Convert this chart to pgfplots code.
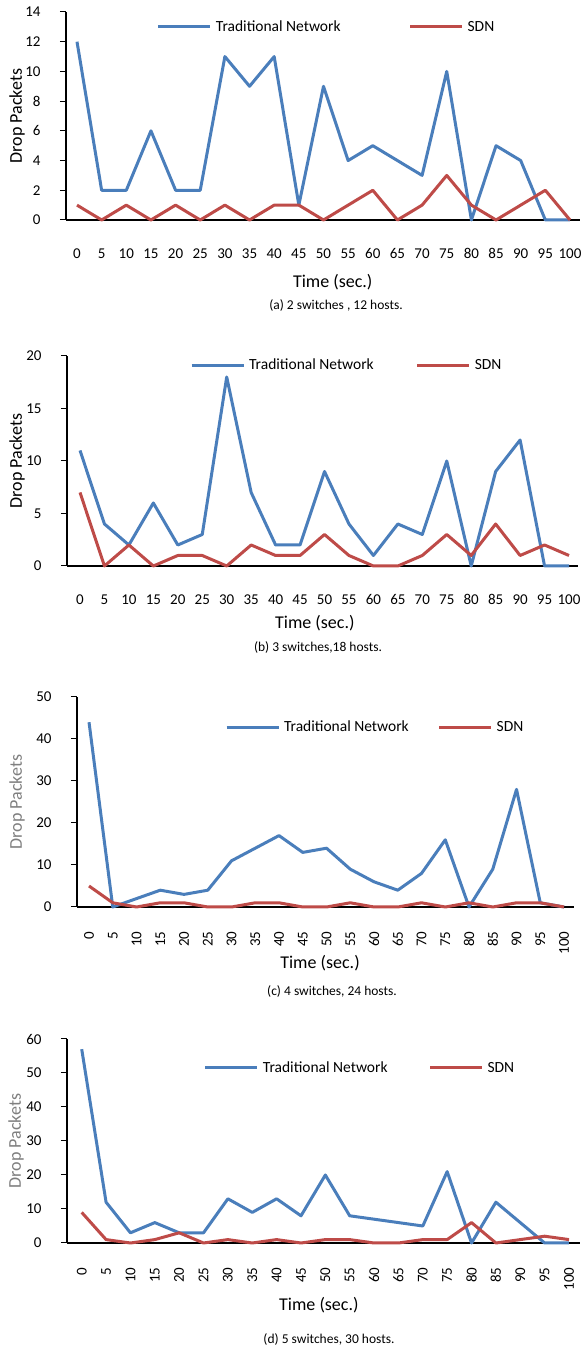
\documentclass[border=0pt]{standalone}
\usepackage{fontspec}
\setmainfont{Carlito}
\usepackage{pgfplots}
\usepackage{pgfplotstable}
\pgfplotsset{compat=1.18}
\definecolor{tnblue}{HTML}{4A7EBB}
\definecolor{sdnred}{HTML}{BE4B48}
\definecolor{lblgray}{HTML}{7F7F7F}

\pgfplotstableread{
t trad sdn
0 12 1
5 2 0
10 2 1
15 6 0
20 2 1
25 2 0
30 11 1
35 9 0
40 11 1
45 1 1
50 9 0
55 4 1
60 5 2
65 4 0
70 3 1
75 10 3
80 0 1
85 5 0
90 4 1
95 0 2
100 0 0
}\tabA
\pgfplotstableread{
t trad sdn
0 11 7
5 4 0
10 2 2
15 6 0
20 2 1
25 3 1
30 18 0
35 7 2
40 2 1
45 2 1
50 9 3
55 4 1
60 1 0
65 4 0
70 3 1
75 10 3
80 0 1
85 9 4
90 12 1
95 0 2
100 0 1
}\tabB
\pgfplotstableread{
t trad sdn
0 44 5
5 0 1
10 2 0
15 4 1
20 3 1
25 4 0
30 11 0
35 14 1
40 17 1
45 13 0
50 14 0
55 9 1
60 6 0
65 4 0
70 8 1
75 16 0
80 0 1
85 9 0
90 28 1
95 1 1
100 0 0
}\tabC
\pgfplotstableread{
t trad sdn
0 57 9
5 12 1
10 3 0
15 6 1
20 3 3
25 3 0
30 13 1
35 9 0
40 13 1
45 8 0
50 20 1
55 8 1
60 7 0
65 6 0
70 5 1
75 21 1
80 0 6
85 12 0
90 6 1
95 0 2
100 0 1
}\tabD

\newcommand{\lblfont}{\fontsize{18}{21}\selectfont}
\pgfplotsset{
  panel/.style={
    scale only axis,
    anchor=south west,
    axis x line*=bottom, axis y line*=left,
    axis line style={black, line width=2.2pt},
    xtick={0,5,...,100},
    xtick style={draw=none},
    ytick style={black, line width=1pt},
    tick align=outside,
    major tick length=6pt,
    tick label style={font=\fontsize{15}{18}\selectfont},
    /pgf/number format/assume math mode=true,
    xlabel={Time (sec.)},
    ylabel={Drop Packets},
    legend style={draw=none, fill=none, font=\fontsize{15.5}{18}\selectfont,
      anchor=west, inner sep=0pt, outer sep=0pt,
      nodes={inner sep=1pt}},
    legend columns=2,
    legend image code/.code={\draw[#1, line width=3pt] (0pt,0pt) -- (52pt,0pt);\path (55pt,0pt);},
    every axis plot/.append style={line width=3pt, line join=round, no marks},
    ymin=0,
    clip=false,
  }
}

\begin{document}
\begin{tikzpicture}
\useasboundingbox (0,0) rectangle (582pt,1349pt);
% (a)
\begin{axis}[panel, at={(66pt,1129pt)}, width=514pt, height=208pt,
  xmin=-2.23, xmax=102.03, ymax=14, ytick={0,2,...,14},
  xticklabel shift=19pt, yticklabel shift=16pt,
  every axis x label/.style={at={(axis description cs:0.519,-0.298)}, anchor=center, font=\lblfont},
  every axis y label/.style={at={(axis description cs:-0.0953,0.5)}, rotate=90, anchor=center, font=\lblfont},
  legend style={at={(rel axis cs:0.177,0.928)}, /tikz/every even column/.append style={column sep=67pt}}]
\addplot[tnblue] table[x=t,y=trad] {\tabA};
\addplot[sdnred] table[x=t,y=sdn] {\tabA};
\legend{Traditional Network, SDN}
\end{axis}
% (b)
\begin{axis}[panel, at={(67pt,783pt)}, width=511pt, height=210pt,
  xmin=-2.66, xmax=101.84, ymax=20, ytick={0,5,...,20},
  xticklabel shift=19pt, yticklabel shift=16pt,
  every axis x label/.style={at={(axis description cs:0.485,-0.271)}, anchor=center, font=\lblfont},
  every axis y label/.style={at={(axis description cs:-0.0978,0.5)}, rotate=90, anchor=center, font=\lblfont},
  legend style={at={(rel axis cs:0.241,0.957)}, /tikz/every even column/.append style={column sep=41pt}}]
\addplot[tnblue] table[x=t,y=trad] {\tabB};
\addplot[sdnred] table[x=t,y=sdn] {\tabB};
\legend{Traditional Network, SDN}
\end{axis}
% (c)
\begin{axis}[panel, at={(77pt,442pt)}, width=497pt, height=210pt,
  xmin=-2.53, xmax=102.1, ymax=50, ytick={0,10,...,50},
  xticklabel style={rotate=90, anchor=east}, xticklabel shift=15pt, yticklabel shift=16pt,
  every axis x label/.style={at={(axis description cs:0.489,-0.267)}, anchor=center, font=\lblfont},
  every axis y label/.style={at={(axis description cs:-0.1207,0.5)}, rotate=90, anchor=center, text=lblgray, font=\lblfont},
  legend style={at={(rel axis cs:0.298,0.857)}, /tikz/every even column/.append style={column sep=28pt}}]
\addplot[tnblue] table[x=t,y=trad] {\tabC};
\addplot[sdnred] table[x=t,y=sdn] {\tabC};
\legend{Traditional Network, SDN}
\end{axis}
% (d)
\begin{axis}[panel, at={(67pt,106pt)}, width=513pt, height=204pt,
  xmin=-3.02, xmax=102.26, ymax=60, ytick={0,10,...,60},
  xticklabel style={rotate=90, anchor=east}, xticklabel shift=15pt, yticklabel shift=16pt,
  every axis x label/.style={at={(axis description cs:0.491,-0.304)}, anchor=center, font=\lblfont},
  every axis y label/.style={at={(axis description cs:-0.0994,0.5)}, rotate=90, anchor=center, text=lblgray, font=\lblfont},
  legend style={at={(rel axis cs:0.267,0.858)}, /tikz/every even column/.append style={column sep=40pt}}]
\addplot[tnblue] table[x=t,y=trad] {\tabD};
\addplot[sdnred] table[x=t,y=sdn] {\tabD};
\legend{Traditional Network, SDN}
\end{axis}
\node[font=\fontsize{13.5}{16}\selectfont] at (336pt,1043pt) {(a) 2 switches , 12 hosts.};
\node[font=\fontsize{13.5}{16}\selectfont] at (318pt,701pt) {(b) 3 switches,18 hosts.};
\node[font=\fontsize{13.5}{16}\selectfont] at (332pt,357pt) {(c) 4 switches, 24 hosts.};
\node[font=\fontsize{13.5}{16}\selectfont] at (329pt,10pt) {(d) 5 switches, 30 hosts.};
\end{tikzpicture}
\end{document}
